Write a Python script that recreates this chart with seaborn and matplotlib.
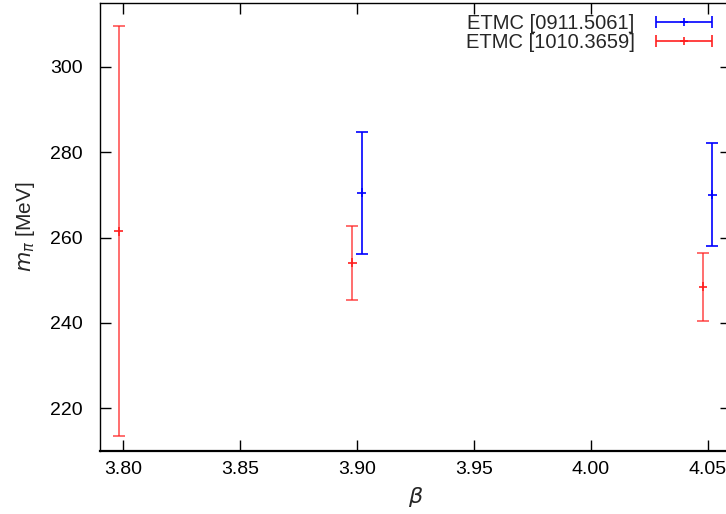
import numpy as np
import pandas as pd
import matplotlib
matplotlib.use("Agg")
import matplotlib.pyplot as plt
from matplotlib.legend_handler import HandlerErrorbar
import seaborn as sns

# ETMC [0911.5061]
beta_a = [3.902, 4.052]
mpi_a = [270.5, 270.1]
err_a = [14.3, 12.1]

# ETMC [1010.3659]
beta_b = [3.798, 3.898, 4.048]
mpi_b = [261.5, 254.1, 248.5]
err_b = [48.1, 8.7, 8.0]

labels = ["ETMC [0911.5061]", "ETMC [1010.3659]"]
colors = ["#0000ff", "#ff2020"]

xticks = [3.80, 3.85, 3.90, 3.95, 4.00, 4.05]
yticks = [220, 240, 260, 280, 300]

sns.set_theme(style="ticks")
plt.rcParams["font.family"] = ["Liberation Sans", "DejaVu Sans"]
plt.rcParams["mathtext.fontset"] = "dejavusans"

fig = plt.figure(figsize=(7.26, 5.14), dpi=100)
W, H = 726, 514
ax = fig.add_axes([100 / W, 63 / H, 631 / W, 448 / H])

df = pd.DataFrame({
    "beta": beta_a + beta_b,
    "mpi": mpi_a + mpi_b,
    "err": err_a + err_b,
    "set": [labels[0]] * len(beta_a) + [labels[1]] * len(beta_b),
})

styles = {labels[0]: dict(lw=1.2, alpha=1.0), labels[1]: dict(lw=1.3, alpha=0.7)}
for lab, col in zip(labels, colors):
    sub = df[df["set"] == lab]
    ax.errorbar(sub["beta"], sub["mpi"], yerr=sub["err"], fmt="none",
                ecolor=col, elinewidth=styles[lab]["lw"], capsize=4.3,
                capthick=styles[lab]["lw"], alpha=styles[lab]["alpha"])

sns.scatterplot(data=df, x="beta", y="mpi", hue="set", hue_order=labels,
                palette=colors, marker="+", s=40, linewidth=1.2,
                legend=False, ax=ax, zorder=3)

# legend entries drawn as horizontal error bars, gnuplot style
handles = []
for lab, col in zip(labels, colors):
    h = ax.errorbar([np.nan], [np.nan], xerr=[0.0], fmt="+", color=col,
                    ms=6, mew=1.2, elinewidth=1.2, capsize=4.3, capthick=1.2,
                    label=lab)
    handles.append(h)
leg = fig.legend(handles=handles, labels=labels, loc="upper right",
                 bbox_to_anchor=(712 / W, 1 - 14 / H), frameon=False,
                 markerfirst=False, fontsize=14.5, handlelength=2.8,
                 handletextpad=1.05, labelspacing=0.0, borderpad=0,
                 borderaxespad=0,
                 handler_map={type(handles[0]): HandlerErrorbar(xerr_size=1.4)})

ax.set_xlim(3.79, 4.06)
ax.set_ylim(210, 315)
ax.set_xticks(xticks)
ax.set_xticklabels([f"{t:.2f}" for t in xticks])
ax.set_yticks(yticks)
ax.set_yticklabels([str(t) for t in yticks])

ax.tick_params(axis="both", direction="in", length=8, width=1.0,
               colors="black", labelsize=14, top=True, right=True)
ax.tick_params(axis="x", pad=7)
ax.tick_params(axis="y", pad=12.5)
for sp in ax.spines.values():
    sp.set_color("black")
    sp.set_linewidth(1.0)
    sp.set_visible(True)
ax.spines["bottom"].set_linewidth(1.6)

ax.set_xlabel(r"$\beta$", fontsize=16)
ax.set_ylabel(r"$m_\pi$ [MeV]", fontsize=15)
ax.xaxis.set_label_coords(0.5, -0.075)
ax.yaxis.set_label_coords(-0.1, 0.5)

fig.savefig("out.png", dpi=100)
